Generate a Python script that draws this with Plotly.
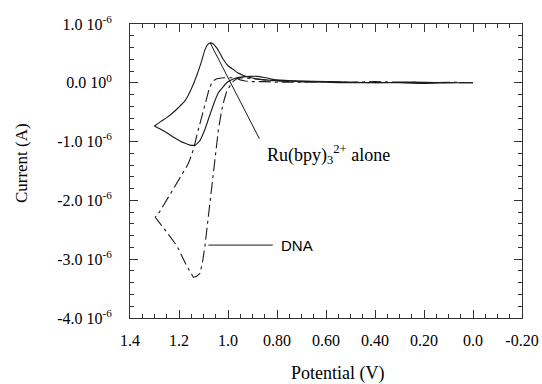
import plotly.graph_objects as go

# Ru(bpy)3 2+ alone (solid) -- forward scan then reverse scan, current in microamps
ru_fwd_v = [0.0, 0.1, 0.2, 0.3, 0.4, 0.5, 0.6, 0.7, 0.8, 0.85, 0.88, 0.91, 0.94, 0.964, 0.985,
            1.005, 1.02, 1.039, 1.053, 1.066, 1.08, 1.094, 1.105, 1.114, 1.125, 1.134, 1.145,
            1.155, 1.175, 1.196, 1.22, 1.25, 1.275, 1.3]
ru_fwd_i = [0.0, 0.0, 0.01, 0.01, 0.0, 0.01, 0.02, 0.03, 0.05, 0.09, 0.11, 0.11, 0.10, 0.085, 0.05,
            0.0, -0.07, -0.17, -0.30, -0.45, -0.62, -0.79, -0.90, -0.98, -1.03, -1.06, -1.065,
            -1.06, -1.03, -0.99, -0.93, -0.85, -0.79, -0.735]
ru_rev_v = [1.3, 1.275, 1.25, 1.225, 1.203, 1.18, 1.162, 1.145, 1.128, 1.11, 1.094, 1.083, 1.073,
            1.06, 1.046, 1.03, 1.019, 1.0, 0.978, 0.96, 0.937, 0.91, 0.882, 0.85, 0.828, 0.8,
            0.7, 0.6, 0.5, 0.4, 0.3, 0.2, 0.1, 0.0]
ru_rev_i = [-0.735, -0.66, -0.593, -0.51, -0.424, -0.33, -0.21, -0.06, 0.12, 0.34, 0.564, 0.65,
            0.678, 0.66, 0.593, 0.48, 0.395, 0.29, 0.225, 0.17, 0.124, 0.09, 0.068, 0.05, 0.044,
            0.035, 0.02, 0.01, 0.0, 0.01, 0.0, -0.01, 0.0, 0.0]

# With DNA (dash-dot)
dna_fwd_v = [0.0, 0.1, 0.2, 0.3, 0.4, 0.5, 0.6, 0.7, 0.8, 0.85, 0.9, 0.937, 0.96, 0.978, 0.99,
             1.005, 1.015, 1.025, 1.039, 1.053, 1.063, 1.073, 1.083, 1.094, 1.104, 1.114, 1.128,
             1.141, 1.169, 1.209, 1.25, 1.277, 1.297]
dna_fwd_i = [0.0, 0.01, 0.0, 0.01, 0.02, 0.01, 0.02, 0.03, 0.03, 0.05, 0.07, 0.085, 0.08, 0.03,
             -0.04, -0.14, -0.28, -0.45, -0.79, -1.3, -1.7, -2.09, -2.45, -2.77, -3.05, -3.24,
             -3.29, -3.31, -3.11, -2.77, -2.54, -2.40, -2.29]
dna_rev_v = [1.297, 1.28, 1.264, 1.243, 1.223, 1.2, 1.182, 1.165, 1.155, 1.14, 1.128, 1.117,
             1.107, 1.097, 1.087, 1.076, 1.066, 1.056, 1.046, 1.03, 1.019, 1.0, 0.98, 0.96, 0.95,
             0.93, 0.9, 0.85, 0.8, 0.7, 0.6, 0.5, 0.4, 0.3, 0.2, 0.1, 0.0]
dna_rev_i = [-2.288, -2.2, -2.09, -1.95, -1.81, -1.66, -1.525, -1.40, -1.30, -1.12, -0.905, -0.73,
             -0.566, -0.40, -0.227, -0.09, 0.0, 0.045, 0.068, 0.08, 0.085, 0.085, 0.085, 0.07,
             0.05, 0.03, 0.02, 0.02, 0.01, 0.01, 0.02, 0.01, 0.0, 0.01, 0.0, 0.0, 0.0]

x_tick_vals = [1.4, 1.2, 1.0, 0.8, 0.6, 0.4, 0.2, 0.0, -0.2]
x_tick_text = ["1.4", "1.2", "1.0", "0.80", "0.60", "0.40", "0.20", "0.0", "-0.20"]
y_tick_vals = [1e-6, 0.0, -1e-6, -2e-6, -3e-6, -4e-6]
y_tick_text = ["1.0 10<sup>-6</sup>", "0.0 10<sup>0</sup>", "-1.0 10<sup>-6</sup>",
               "-2.0 10<sup>-6</sup>", "-3.0 10<sup>-6</sup>", "-4.0 10<sup>-6</sup>"]

UA = 1e-6
INK = "#1a1a1a"
fig = go.Figure()
fig.add_trace(go.Scatter(x=ru_fwd_v + ru_rev_v, y=[v * UA for v in ru_fwd_i + ru_rev_i],
                         mode="lines", line=dict(color=INK, width=1.1, shape="spline", smoothing=0.5),
                         showlegend=False))
fig.add_trace(go.Scatter(x=dna_fwd_v + dna_rev_v, y=[v * UA for v in dna_fwd_i + dna_rev_i],
                         mode="lines", line=dict(color=INK, width=1.1, dash="12px,4px,3px,4px"),
                         showlegend=False))

tickfont = dict(family="Liberation Serif", size=16, color="black")
fig.update_xaxes(range=[1.4, -0.2], tickvals=x_tick_vals, ticktext=x_tick_text,
                 ticks="inside", ticklen=8, tickcolor="#333", mirror="ticks", automargin=False,
                 showline=True, linecolor="#333", linewidth=1, showgrid=False, zeroline=False,
                 tickfont=tickfont, ticklabelstandoff=8,
                 minor=dict(tickmode="linear", tick0=0, dtick=0.05, ticks="inside", ticklen=4,
                            tickcolor="#333", showgrid=False))
fig.update_yaxes(range=[-4e-6, 1e-6], tickvals=y_tick_vals, ticktext=y_tick_text,
                 ticks="inside", ticklen=8, tickcolor="#333", mirror="ticks", automargin=False,
                 showline=True, linecolor="#333", linewidth=1, showgrid=False, zeroline=False,
                 tickfont=tickfont, ticklabelstandoff=14,
                 minor=dict(tickmode="linear", tick0=0, dtick=0.2e-6, ticks="inside", ticklen=4,
                            tickcolor="#333", showgrid=False))

# Axis titles
fig.add_annotation(xref="paper", yref="paper", x=0.53, y=-0.19, xanchor="center", yanchor="middle",
                   showarrow=False, text="Potential (V)",
                   font=dict(family="Liberation Serif", size=18, color="black"))
fig.add_annotation(xref="paper", yref="paper", x=-0.278, y=0.527, xanchor="center", yanchor="middle",
                   showarrow=False, text="Current (A)", textangle=-90,
                   font=dict(family="Liberation Serif", size=17, color="black"))

# Leader lines and labels
fig.add_shape(type="line", x0=1.073, y0=0.68e-6, x1=0.872, y1=-0.95e-6,
              line=dict(color=INK, width=1))
fig.add_annotation(x=0.848, y=-1.22e-6, xanchor="left", yanchor="middle", showarrow=False,
                   text="Ru(bpy)<sub>3</sub><sup>2+</sup> alone",
                   font=dict(family="Liberation Serif", size=18, color="black"))
fig.add_shape(type="line", x0=1.08, y0=-2.76e-6, x1=0.817, y1=-2.76e-6,
              line=dict(color=INK, width=1))
fig.add_annotation(x=0.79, y=-2.76e-6, xanchor="left", yanchor="middle", showarrow=False,
                   text="DNA", font=dict(family="Liberation Sans", size=15, color="black"))

fig.update_layout(width=542, height=384, margin=dict(l=130, r=20, t=24, b=66),
                  paper_bgcolor="white", plot_bgcolor="white")
fig.write_html("out.html", config={"displayModeBar": False},
               post_script="document.body.style.margin='0';document.body.style.overflow='hidden';")
